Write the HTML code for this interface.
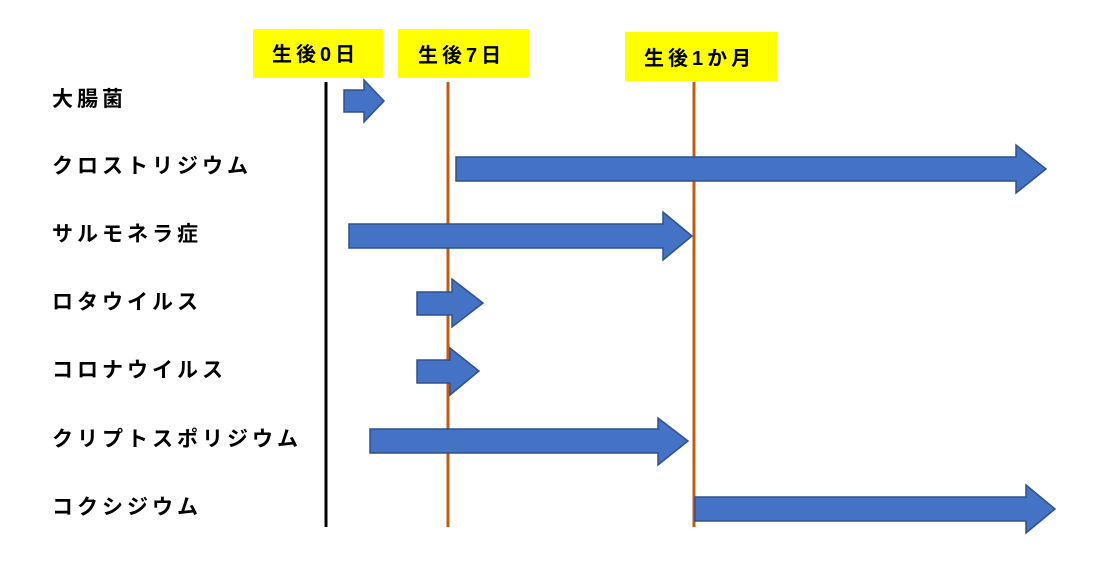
<!DOCTYPE html>
<html><head><meta charset="utf-8"><style>
html,body{margin:0;padding:0;background:#fff;width:1100px;height:570px;overflow:hidden}
text{font-family:"Liberation Sans","Noto Sans CJK JP",sans-serif;font-weight:bold;fill:#000}
</style></head><body>
<svg width="1100" height="570" viewBox="0 0 1100 570" xmlns="http://www.w3.org/2000/svg">
<rect x="253" y="29" width="130" height="49" fill="#ffff00"/>
<rect x="398" y="29" width="131" height="49" fill="#ffff00"/>
<rect x="625" y="32" width="152" height="49" fill="#ffff00"/>
<g font-size="20" letter-spacing="4">
<text x="272" y="61">生後0日</text>
<text x="418" y="62">生後7日</text>
<text x="644" y="65">生後1か月</text>
</g>
<line x1="326" y1="82" x2="326" y2="527" stroke="#000" stroke-width="3"/>
<line x1="448" y1="82" x2="448" y2="527" stroke="#c55a11" stroke-width="3"/>
<line x1="694" y1="82" x2="694" y2="527" stroke="#c55a11" stroke-width="3"/>
<g font-size="21" letter-spacing="4">
<text x="52" y="106">大腸菌</text>
<text x="52" y="173">クロストリジウム</text>
<text x="52" y="241">サルモネラ症</text>
<text x="52" y="309">ロタウイルス</text>
<text x="52" y="377">コロナウイルス</text>
<text x="52" y="446">クリプトスポリジウム</text>
<text x="52" y="514">コクシジウム</text>
</g>
<g fill="#4472c4" stroke="#2f528f" stroke-width="1.5">
<polygon points="344,90 364,90 364,80 384,101 364,122 364,112 344,112"/>
<polygon points="456,157 1016,157 1016,145 1046,169 1016,193 1016,181 456,181"/>
<polygon points="349,224 663,224 663,212 692,236 663,260 663,248 349,248"/>
<polygon points="417,292 452,292 452,279 483,303 452,327 452,315 417,315"/>
<polygon points="417,360 450,360 450,348 479,371 450,395 450,383 417,383"/>
<polygon points="370,429 658,429 658,418 688,441 658,465 658,453 370,453"/>
<polygon points="695,497 1026,497 1026,485 1055,509 1026,533 1026,521 695,521"/>
</g>
</svg>
</body></html>
